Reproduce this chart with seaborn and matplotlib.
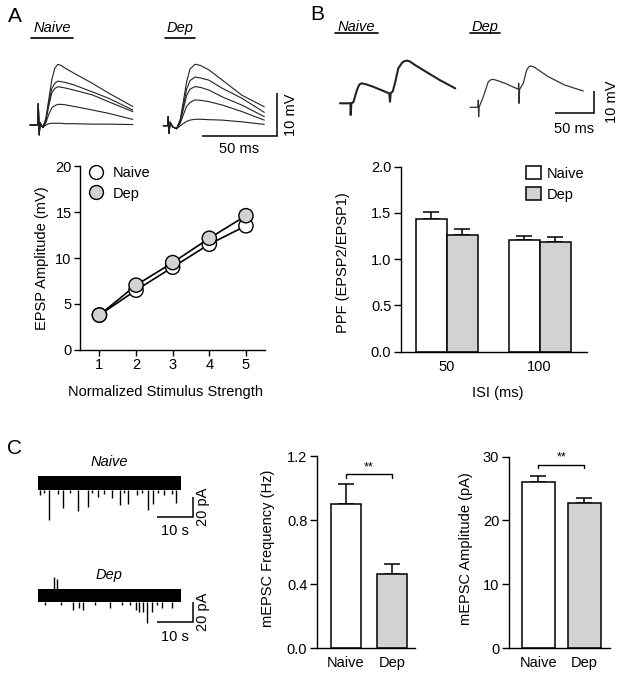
import matplotlib
matplotlib.use("Agg")
import matplotlib.pyplot as plt
from matplotlib.lines import Line2D
from matplotlib.patches import Patch
import pandas as pd
import seaborn as sns

W, H = 624, 679
GRAY = "#d2d2d2"

# --- A: input/output curve ---
stim_strength = [1, 2, 3, 4, 5]
epsp_naive = [3.8, 6.5, 9.0, 11.5, 13.5]
epsp_naive_sem = [0.3, 0.4, 0.45, 0.5, 0.55]
epsp_dep = [3.8, 7.05, 9.5, 12.15, 14.6]
epsp_dep_sem = [0.3, 0.4, 0.45, 0.5, 0.5]

# A example traces (ms from stimulus, mV from baseline)
a_naive_t = [-5.5, -0.5, 0, 0.6, 1.2, 3, 5, 7, 9, 11, 13, 15, 18, 24, 36, 47, 63]
a_naive_traces = [
    [0, 0, 5, -2.3, 0.5, -0.6, 1.5, 6.0, 10.5, 13.2, 14.1, 13.9, 13.2, 12.0, 9.7, 7.4, 4.3],
    [0, 0, 5, -2.3, 0.5, -0.6, 1.0, 5.0, 8.5, 9.7, 10.2, 10.1, 9.9, 9.3, 7.7, 6.2, 3.5],
    [0, 0, 5, -2.3, 0.5, -0.6, 1.0, 4.5, 7.5, 8.5, 8.9, 8.8, 8.6, 8.1, 7.0, 5.4, 3.1],
    [0, 0, 5, -2.3, 0.5, -0.6, 0.5, 2.5, 4.0, 4.5, 4.8, 4.8, 4.7, 4.3, 3.5, 2.7, 1.3],
    [0, 0, 5, -2.3, 0.5, -0.6, 0.0, 0.3, 0.4, 0.4, 0.4, 0.4, 0.3, 0.3, 0.2, 0.2, 0.1],
]
a_dep_t = [-3.3, -0.3, 0, 0.5, 1.2, 3, 5.5, 8, 10, 12.2, 14.5, 17.8, 21.5, 27, 36, 49, 64]
a_dep_traces = [
    [0, 0, 2.1, -1.8, 0.8, -0.3, -0.7, 1.5, 5.6, 10.2, 13.2, 14.3, 14.0, 13.0, 10.6, 7.1, 4.4],
    [0, 0, 2.1, -1.8, 0.8, -0.3, -0.7, 1.2, 4.5, 8.5, 10.5, 11.3, 11.1, 10.6, 8.7, 6.4, 3.1],
    [0, 0, 2.1, -1.8, 0.8, -0.3, -0.7, 1.0, 3.8, 7.0, 8.5, 9.1, 8.9, 8.3, 6.7, 4.8, 2.1],
    [0, 0, 2.1, -1.8, 0.8, -0.3, -0.7, 0.6, 2.5, 4.5, 5.4, 6.0, 5.9, 5.6, 4.8, 3.3, 1.3],
    [0, 0, 2.1, -1.8, 0.8, -0.3, -0.7, 0.0, 0.5, 1.0, 1.3, 1.5, 1.5, 1.4, 1.3, 0.9, 0.3],
]

# --- B: paired-pulse facilitation ---
isi_labels = ["50", "100"]
ppf_naive = [1.435, 1.21]
ppf_naive_sem = [0.075, 0.04]
ppf_dep = [1.26, 1.19]
ppf_dep_sem = [0.065, 0.05]

b_naive_t = [-13.7, -0.3, 0, 0.8, 3.4, 8, 11, 14, 20, 29, 49.5, 50.4, 51.2, 54, 57, 61, 66,
             69, 72, 76, 82, 93, 114, 134]
b_naive_v = [0, 0, -5.3, 0, 0.5, 6.0, 8.5, 9.1, 8.6, 7.5, 4.5, 0.7, 4.5, 5.5, 9.5, 15.9, 18.5,
             19.2, 19.4, 19.0, 17.5, 15.1, 10.6, 6.8]
b_dep_t = [-10.6, -0.3, 0, 0.4, 1, 6.4, 12.8, 16, 19.2, 24, 34.2, 51.3, 51.8, 52.2, 53, 57.7,
           62, 65, 67.6, 72, 89.7, 111, 134.6]
b_dep_v = [0, 0, 3.3, -4.3, 0, 4.8, 11.6, 12.5, 12.7, 12.2, 10.9, 8.2, 10.9, 1.8, 8.2, 10.9,
           17.0, 18.5, 18.8, 18.2, 13.9, 10.1, 7.4]

# --- C: mEPSCs ---
groups = ["Naive", "Dep"]
mepsc_freq = [0.90, 0.464]
mepsc_freq_sem = [0.123, 0.06]
mepsc_amp = [26.0, 22.8]
mepsc_amp_sem = [1.05, 0.7]

c_duration = 39.7  # s
c_naive_noise = 7.0  # pA half width of baseline noise
c_naive_evt_t = [3.2, 7.1, 11.3, 13.9, 16.8, 20.6, 22.9, 25.2, 30.6, 31.9, 38.4,
                 0.5, 1.8, 5.5, 9.0, 15.2, 18.5, 24.0, 27.5, 29.0, 33.5, 35.0, 37.3]
c_naive_evt_amp = [37.5, 25.5, 28, 24, 14, 15.5, 22.5, 21, 27.5, 21, 20,
                   12, 10, 11, 10, 10, 11, 10, 12, 10, 10, 12, 11]
c_dep_noise = 6.5
c_dep_evt_t = [9.9, 11.6, 12.7, 20.1, 27.3, 28.2, 29.3, 30.4, 31.7, 34.4, 37.2,
               2.0, 6.5, 16.0, 23.5, 25.5, 33.0]
c_dep_evt_amp = [15, 13.3, 15, 13.3, 15, 16.7, 17.3, 28.3, 16.7, 13.3, 13.3,
                 9.5, 9.5, 9.5, 10, 9.5, 10]
c_dep_up_t = [4.5, 5.3]
c_dep_up_amp = [18, 16]


sns.set_theme(style="ticks")
plt.rcParams["font.family"] = ["Liberation Sans", "DejaVu Sans"]
plt.rcParams.update({
    "font.size": 10.5,
    "axes.edgecolor": "black",
    "axes.labelcolor": "black",
    "text.color": "black",
    "xtick.color": "black",
    "ytick.color": "black",
    "axes.linewidth": 1.0,
    "xtick.major.width": 1.0,
    "ytick.major.width": 1.0,
    "xtick.labelsize": 10.5,
    "ytick.labelsize": 10.5,
    "axes.labelsize": 10.5,
})

fig = plt.figure(figsize=(W / 100, H / 100), dpi=100)


def fx(px):
    return px / W


def fy(py):
    return 1 - py / H


def axes_px(left, top, right, bottom):
    return fig.add_axes([fx(left), fy(bottom), (right - left) / W, (bottom - top) / H])


def trace_axes(box, origin, sx, sy):
    """Axes without frame where data (0, 0) sits at pixel `origin`."""
    left, top, right, bottom = box
    ax = axes_px(*box)
    ax.set_xlim((left - origin[0]) / sx, (right - origin[0]) / sx)
    ax.set_ylim((origin[1] - bottom) / sy, (origin[1] - top) / sy)
    ax.axis("off")
    return ax


def scale_bar(ax, x0, y0, dx, dy, xlab, ylab, xpad=5, ypad=5):
    ax.plot([x0, x0 + dx, x0 + dx], [y0, y0, y0 + dy], color="black", lw=1.1,
            solid_joinstyle="miter", solid_capstyle="butt")
    ax.annotate(xlab, (x0 + dx / 2, y0), xytext=(0, -xpad), textcoords="offset points",
                ha="center", va="top", fontsize=10.5)
    ax.annotate(ylab, (x0 + dx, y0 + dy / 2), xytext=(ypad, 0), textcoords="offset points",
                ha="left", va="center", rotation=90, fontsize=10.5)


def underlined_title(xc, yc, text, x0, x1, yline):
    fig.text(fx(xc), fy(yc), text, style="italic", ha="center", va="center", fontsize=10.5)
    fig.add_artist(Line2D([fx(x0), fx(x1)], [fy(yline), fy(yline)], color="black", lw=1.2))


def sem_bars(ax, values, sems, capsize):
    # one-sided (upward) SEM whiskers on each bar
    xs = [p.get_x() + p.get_width() / 2 for c in ax.containers for p in c.patches]
    ax.errorbar(xs, values, yerr=[[0] * len(sems), sems], fmt="none", ecolor="black",
                elinewidth=1.1, capsize=capsize, capthick=1.1, zorder=0)


# panel letters
fig.text(fx(15), fy(17), "A", fontsize=15, ha="center", va="center")
fig.text(fx(317), fy(14), "B", fontsize=15, ha="center", va="center")
fig.text(fx(15), fy(449), "C", fontsize=15, ha="center", va="center")

# ---------------- A traces ----------------
underlined_title(52, 28, "Naive", 31, 73, 37.5)
underlined_title(180, 28, "Dep", 165, 195, 37.5)

ax = trace_axes((25, 55, 140, 140), (38.3, 125), 1.5, 4.3)
for v in a_naive_traces:
    sns.lineplot(x=a_naive_t, y=v, ax=ax, color="#222222", lw=0.8, estimator=None, sort=False)

ax = trace_axes((155, 55, 300, 160), (168.3, 125.7), 1.5, 4.3)
for v in a_dep_traces:
    sns.lineplot(x=a_dep_t, y=v, ax=ax, color="#222222", lw=0.8, estimator=None, sort=False)
scale_bar(ax, 22.5, -2.4, 50, 10, "50 ms", "10 mV", xpad=4.5, ypad=5)

# ---------------- A input/output ----------------
ax = axes_px(80, 166, 265, 350)
df_a = pd.DataFrame({
    "stim": stim_strength * 2,
    "amp": epsp_naive + epsp_dep,
    "group": ["Naive"] * 5 + ["Dep"] * 5,
})
ax.errorbar(stim_strength, epsp_naive, yerr=epsp_naive_sem, fmt="none", ecolor="black",
            elinewidth=1, capsize=3.5, zorder=1)
ax.errorbar(stim_strength, epsp_dep, yerr=epsp_dep_sem, fmt="none", ecolor="black",
            elinewidth=1, capsize=3.5, zorder=1)
sns.lineplot(data=df_a, x="stim", y="amp", hue="group",
             palette={"Naive": "black", "Dep": "black"}, lw=1.2, legend=False, ax=ax, zorder=2)
sns.scatterplot(data=df_a, x="stim", y="amp", hue="group",
                palette={"Naive": "white", "Dep": GRAY}, s=105, edgecolor="black",
                linewidth=1.0, legend=False, ax=ax, zorder=3)
ax.set_xlim(0.47, 5.52)
ax.set_ylim(0, 20)
ax.set_xticks(stim_strength)
ax.set_yticks([0, 5, 10, 15, 20])
ax.tick_params(length=4, pad=2)
ax.set_xlabel("Normalized Stimulus Strength")
ax.set_ylabel("EPSP Amplitude (mV)")
ax.xaxis.set_label_coords(0.46, -0.19)
ax.yaxis.set_label_coords(-0.165, 0.5)
sns.despine(ax=ax)
handles = [
    Line2D([], [], marker="o", ls="none", ms=10, mfc="white", mec="black", mew=1.0),
    Line2D([], [], marker="o", ls="none", ms=10, mfc=GRAY, mec="black", mew=1.0),
]
ax.legend(handles, groups, loc="upper left", bbox_to_anchor=(fx(89), fy(166)),
          bbox_transform=fig.transFigure, frameon=False, borderpad=0, borderaxespad=0,
          handlelength=1.0, handletextpad=0.6, labelspacing=0.45, fontsize=10.5)

# ---------------- B traces ----------------
underlined_title(356.5, 27, "Naive", 335, 378, 33)
underlined_title(485, 27, "Dep", 470, 500, 33)

ax = trace_axes((330, 40, 465, 130), (350.7, 103.3), 0.78, 2.2)
sns.lineplot(x=b_naive_t, y=b_naive_v, ax=ax, color="#222222", lw=1.5, estimator=None, sort=False)

ax = trace_axes((465, 40, 624, 140), (478.3, 107.3), 0.78, 2.2)
sns.lineplot(x=b_dep_t, y=b_dep_v, ax=ax, color="#333333", lw=0.9, estimator=None, sort=False)
scale_bar(ax, 98.3, -2.7, 50, 10, "50 ms", "10 mV", xpad=6, ypad=8)

# ---------------- B PPF bars ----------------
ax = axes_px(401, 166.7, 587, 351.7)
df_b = pd.DataFrame({
    "isi": isi_labels * 2,
    "ppf": ppf_naive + ppf_dep,
    "group": ["Naive"] * 2 + ["Dep"] * 2,
})
sns.barplot(data=df_b, x="isi", y="ppf", hue="group", order=isi_labels, hue_order=groups,
            palette={"Naive": "white", "Dep": GRAY}, edgecolor="black", linewidth=1.1,
            width=0.667, errorbar=None, legend=False, ax=ax)
sem_bars(ax, ppf_naive + ppf_dep, ppf_naive_sem + ppf_dep_sem, capsize=6)
ax.set_xlim(-0.49, 1.51)
ax.set_ylim(0, 2.0)
ax.set_yticks([0, 0.5, 1.0, 1.5, 2.0])
ax.set_yticklabels(["0.0", "0.5", "1.0", "1.5", "2.0"])
ax.tick_params(axis="y", length=5, pad=2)
ax.tick_params(axis="x", length=0, pad=6)
ax.set_xlabel("ISI (ms)")
ax.set_ylabel("PPF (EPSP2/EPSP1)")
ax.xaxis.set_label_coords(0.52, -0.185)
ax.yaxis.set_label_coords(-0.275, 0.48)
sns.despine(ax=ax)
handles = [Patch(facecolor="white", edgecolor="black", lw=1.1),
           Patch(facecolor=GRAY, edgecolor="black", lw=1.1)]
ax.legend(handles, groups, loc="upper left", bbox_to_anchor=(fx(526), fy(166)),
          bbox_transform=fig.transFigure, frameon=False, borderpad=0, borderaxespad=0,
          handlelength=1.0, handleheight=1.0, handletextpad=0.45, labelspacing=0.45,
          fontsize=10.5)

# ---------------- C traces ----------------
ax = trace_axes((30, 455, 215, 545), (37.7, 482.5), 3.6, 1.0)
ax.fill_between([0, c_duration], -c_naive_noise, c_naive_noise, color="black", lw=0)
ax.vlines(c_naive_evt_t, -c_naive_noise, [-a for a in c_naive_evt_amp], color="black", lw=1.0)
ax.text(c_duration / 2, 20.5, "Naive", style="italic", ha="center", va="center", fontsize=10.5)
scale_bar(ax, 33.1, -34.2, 10, 20, "10 s", "20 pA", xpad=5.5, ypad=2.5)

ax = trace_axes((30, 565, 215, 655), (37.7, 595), 3.6, 1.0)
ax.fill_between([0, c_duration], -c_dep_noise, c_dep_noise, color="black", lw=0)
ax.vlines(c_dep_evt_t, -c_dep_noise, [-a for a in c_dep_evt_amp], color="black", lw=1.0)
ax.vlines(c_dep_up_t, c_dep_noise, c_dep_up_amp, color="black", lw=1.0)
ax.text(c_duration / 2, 20, "Dep", style="italic", ha="center", va="center", fontsize=10.5)
scale_bar(ax, 33.1, -27.3, 10, 20, "10 s", "20 pA", xpad=5.5, ypad=2.5)


def mepsc_bars(box, values, sems, width, xlim, ylim, yticks, yticklabels, ylabel,
               label_x, bracket_y, bracket_drop, star_y):
    ax = axes_px(*box)
    sns.barplot(x=groups, y=values, hue=groups, palette={"Naive": "white", "Dep": GRAY},
                edgecolor="black", linewidth=1.1, width=width, errorbar=None,
                legend=False, ax=ax)
    sem_bars(ax, values, sems, capsize=5.5)
    ax.plot([0, 0, 1, 1], [bracket_y - bracket_drop, bracket_y, bracket_y,
                           bracket_y - bracket_drop], color="black", lw=1.0)
    ax.text(0.5, star_y, "**", ha="center", va="center", fontsize=9)
    ax.set_xlim(*xlim)
    ax.set_ylim(*ylim)
    ax.set_yticks(yticks)
    ax.set_yticklabels(yticklabels)
    ax.tick_params(axis="y", length=5, pad=2)
    ax.tick_params(axis="x", length=0, pad=6)
    ax.set_ylabel(ylabel)
    ax.yaxis.set_label_coords(label_x, 0.52)
    sns.despine(ax=ax)
    return ax


mepsc_bars((317, 456, 415, 648), mepsc_freq, mepsc_freq_sem, 0.64, (-0.63, 1.5), (0, 1.2),
           [0, 0.4, 0.8, 1.2], ["0.0", "0.4", "0.8", "1.2"], "mEPSC Frequency (Hz)",
           -0.43, 1.086, 0.026, 1.13)
mepsc_bars((509, 456.7, 610, 648), mepsc_amp, mepsc_amp_sem, 0.71, (-0.64, 1.56), (0, 30),
           [0, 10, 20, 30], ["0", "10", "20", "30"], "mEPSC Amplitude (pA)",
           -0.356, 28.7, 0.55, 29.85)

fig.savefig("out.png", dpi=100)
